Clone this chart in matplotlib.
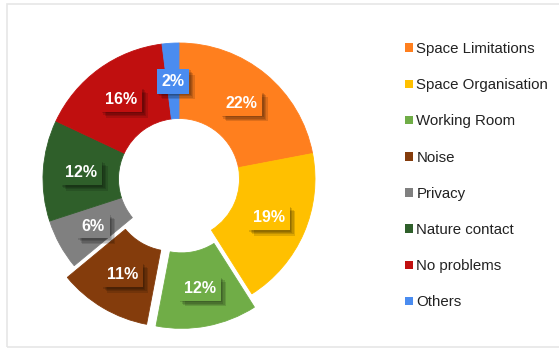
import matplotlib.pyplot as plt
import matplotlib.patheffects as pe
from matplotlib.patches import Rectangle

plt.rcParams['font.family'] = ['Liberation Sans', 'DejaVu Sans']

# data
categories = ['Space Limitations', 'Space Organisation', 'Working Room', 'Noise',
              'Privacy', 'Nature contact', 'No problems', 'Others']
shares = [22, 19, 12, 11, 6, 12, 16, 2]
colors = ['#FF7F1E', '#FFC000', '#70AD47', '#843C0C',
          '#808080', '#2F5F2A', '#C00F0F', '#4A8CF0']
explode = [0, 0, 0.1, 0.1, 0, 0, 0, 0]

fig = plt.figure(figsize=(5.59, 3.49), dpi=100)

# light frame around the chart area
fig.patches.append(Rectangle((7 / 559, 2 / 349), 560 / 559, 343 / 349,
                             transform=fig.transFigure, fill=False,
                             edgecolor='#E6E6E6', linewidth=1.2))

# donut axes: centre at (179, 179) px from top, radius 137 px
half = 170
ax = fig.add_axes([(179 - half) / 559, (170 - half) / 349, 2 * half / 559, 2 * half / 349])
lim = half / 137
ax.set_xlim(-lim, lim)
ax.set_ylim(-lim, lim)
ax.set_aspect('equal')
ax.axis('off')

wedges, texts, autotexts = ax.pie(
    shares, colors=colors, explode=explode, startangle=90, counterclock=False,
    radius=1, autopct='%1.0f%%', pctdistance=0.72,
    wedgeprops=dict(width=0.555, linewidth=0.6))
# hide the thin white seams between touching wedges
for w in wedges:
    w.set_edgecolor(w.get_facecolor())

# soft shadow under the label boxes
soft_shadow = [pe.withSimplePatchShadow(offset=(d, -d), shadow_rgbFace='black', alpha=0.13)
               for d in (1, 2, 3, 4)] + [pe.Normal()]

for t, c in zip(autotexts, colors):
    t.set_color('white')
    t.set_fontsize(11.5)
    t.set_fontweight('bold')
    t.set_bbox(dict(boxstyle='square,pad=0.3', facecolor=c, edgecolor='none'))
    t.get_bbox_patch().set_path_effects(soft_shadow)

leg = fig.legend(wedges, categories, loc='upper left',
                 bbox_to_anchor=(399 / 559, 1 - 36 / 349), frameon=False,
                 fontsize=10.8, labelspacing=1.48, handlelength=0.5,
                 handleheight=0.5, handletextpad=0.25, borderaxespad=0)
for h in leg.legend_handles:
    h.set_linewidth(0)
for txt in leg.get_texts():
    txt.set_color('#222222')

fig.savefig('out.png', dpi=100)
